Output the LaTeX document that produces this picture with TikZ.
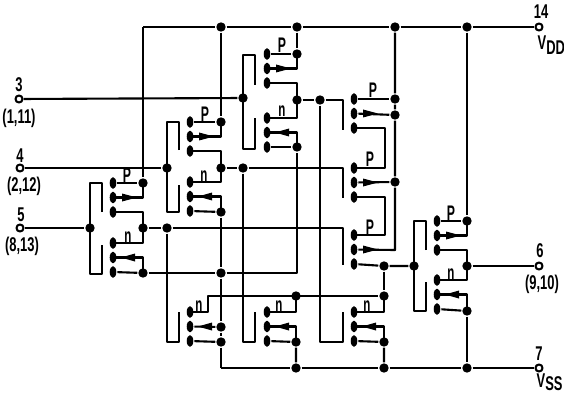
\documentclass[tikz,border=0pt]{standalone}
\usepackage{fontspec}
\setmainfont{Liberation Sans}
\usetikzlibrary{shapes.geometric}

\tikzset{
    wire/.style = {line width = 1.8pt, line join = round},
    junc/.style = {circle, fill = black, inner sep = 0pt, minimum size = 8pt},
    pad/.style = {ellipse, fill = black, inner sep = 0pt, minimum width = 5.6pt, minimum height = 10pt},
    term/.style = {circle, draw, line width = 1.8pt, fill = white, inner sep = 0pt, minimum size = 6pt},
    pletter/.style = {font = \bfseries\fontsize{18}{18}\selectfont, inner sep = 0pt, anchor = base, xscale = .58},
    nletter/.style = {font = \bfseries\fontsize{17}{17}\selectfont, inner sep = 0pt, anchor = base, xscale = .58},
    pinlabel/.style = {font = \bfseries\fontsize{17}{17}\selectfont, inner sep = 0pt, xscale = .65}
}

\begin{document}
\begin{tikzpicture}[x = .03cm, y = -.03cm, wire]
    \useasboundingbox (0, 0) rectangle (564, 398);

    % p transistors
    \foreach \m/\x/\y/\d in {pa/113/183/14, pb/190/122/15, pc/267/54/15, pd/354/99/19, pe/354/168/16, pf/354/235/16, pg/437/221/14}{
        \node [pad] (\m1) at (\x, \y) {};
        \node [pad] (\m2) at (\x, \y + 14.5) {};
        \node [pad] (\m3) at (\x, \y + 29) {};
        \fill (\x + 9, \y + 10.5) -- (\x + 24, \y + 14.5) -- (\x + 9, \y + 18.5) -- cycle;
        \node [pletter] (\m l) at (\x + \d, \y - 1) {P};
    }

    % n transistors
    \foreach \m/\x/\y/\d in {na/113/243/15, nb/190/182/14, nc/267/118/15, nd/190/312/9, ne/267/312/12, nf/354/312/13, ng/437/280/14}{
        \node [pad] (\m1) at (\x, \y) {};
        \node [pad] (\m2) at (\x, \y + 14.5) {};
        \node [pad] (\m3) at (\x, \y + 29) {};
        \fill (\x + 8, \y + 14.5) -- (\x + 22, \y + 10.5) -- (\x + 22, \y + 18.5) -- cycle;
        \node [nletter] (\m l) at (\x + \d, \y - 1) {n};
    }

    % gates
    \foreach \x/\t/\b/\u/\v in {90/183/274/212/245, 167/122/212/150/185, 243/55/149/85/118, 414/221/311/250/282}{
        \draw (\x + 12, \u) |- (\x, \t) -- (\x, \b) -| (\x + 12, \v);
    }

    % junctions
    \foreach \n/\x/\y in {ja1/143/183, ja2/143/228, ja3/143/273, jb1/221/122, jb2/221/168, jb3/221/212,
        jc1/297/54, jc2/297/100, jc3/297/147, jg1/467/221, jg2/467/266, jg3/467/311,
        v1/221/27, v2/297/27, v3/395/27, v4/467/27, g5/90/228, g4/167/168, g3/243/98, g6/414/266,
        h5/167/228, h4/243/168, h3/320/100, jd1/395/99, jd2/395/115, je2/395/182, jf3/384/266,
        k1/221/273, nd2j/221/327, nd3j/221/342, ne1j/296/296, ne3j/296/342, nf1j/384/296, nf3j/384/342,
        s2/296/368, s3/384/368, s4/467/368}{
        \node [junc] (\n) at (\x, \y) {};
    }

    % corners
    \coordinate (v0) at (143, 27);
    \coordinate (s1) at (221, 368);
    \coordinate (c1) at (297, 273);
    \coordinate (cd) at (385, 149);
    \coordinate (ce) at (385, 215);
    \coordinate (cf) at (395, 250);
    \coordinate (cn) at (208, 304);
    \coordinate (gd0) at (343, 100);
    \coordinate (gd1) at (343, 130);
    \coordinate (ge0) at (343, 168);
    \coordinate (ge1) at (343, 198);
    \coordinate (gf0) at (343, 228);
    \coordinate (gf1) at (343, 265);
    \coordinate (gn1) at (179, 342);
    \coordinate (gn2) at (179, 312);
    \coordinate (gn3) at (255, 342);
    \coordinate (gn4) at (255, 312);
    \coordinate (gn5) at (343, 342);
    \coordinate (gn6) at (343, 312);

    % the three input stacks and the inverter
    \foreach \k in {a, b, c, g}{
        \draw (p\k1) -- (j\k1);
        \draw (p\k2.center) -| (j\k1.center);
        \draw (p\k3.center) -| (j\k2.center);
        \draw (n\k1.center) -| (j\k2.center);
        \draw (n\k2.center) -| (j\k3.center);
        \draw (n\k3) -- (j\k3);
    }

    % rails
    \draw (v0) -- (v1) -- (v2) -- (v3) -- (v4);
    \draw (s1) -- (s2) -- (s3) -- (s4);
    \draw (v0) -- (ja1);
    \draw (v1) -- (jb1);
    \draw (v2) -- (jc1);
    \draw (v3) -- (jd1) -- (jd2) -- (je2) -- (cf) -- (pf2);
    \draw (v4) -- (jg1);

    % series p branch
    \draw (pd1) -- (jd1);
    \draw (pd2) -- (jd2);
    \draw (pe2) -- (je2);
    \draw (pd3.center) -| (cd) |- (pe1.center);
    \draw (pe3.center) -| (ce) |- (pf1.center);
    \draw (pf3) -- (jf3) -- (g6);

    % cross wiring and gates
    \draw (ja2) -- (h5) -- (gf0) -- (gf1);
    \draw (jb2) -- (h4) -- (ge0) -- (ge1);
    \draw (jc2) -- (h3) -- (gd0) -- (gd1);
    \draw (h5) -- (h5 |- gn1) -- (gn1) -- (gn2);
    \draw (h4) -- (h4 |- gn3) -- (gn3) -- (gn4);
    \draw (h3) -- (h3 |- gn5) -- (gn5) -- (gn6);
    \draw (ja3) -- (k1) -- (c1) -- (jc3);
    \draw (jb3) -- (k1) -- (nd2j) -- (nd3j) -- (s1);

    % bottom n transistors
    \draw (nd1.center) -| (cn) |- (ne1j.center) -- (nf1j);
    \draw (nd2) -- (nd2j);
    \draw (nd3) -- (nd3j);
    \draw (ne1.center) -| (ne1j.center);
    \draw (ne2.center) -| (ne3j.center);
    \draw (ne3) -- (ne3j) -- (s2);
    \draw (nf1.center) -| (nf1j.center);
    \draw (nf2.center) -| (nf3j.center);
    \draw (nf3) -- (nf3j) -- (s3);
    \draw (jf3) -- (nf1j);
    \draw (jg3) -- (s4);

    % terminals
    \foreach \n/\x/\y in {in3/19/99, in4/20/168, in5/20/228, vdd/539/27, out/539/266, vss/539/368}{
        \node [term] (\n) at (\x, \y) {};
    }
    \draw (in3) -- (g3);
    \draw (in4) -- (g4);
    \draw (in5) -- (g5);
    \draw (v4) -- (vdd);
    \draw (s4) -- (vss);
    \draw (jg2) -- (out);

    % pin labels
    \node [pinlabel] (l3) at (19, 85) {3};
    \node [pinlabel] (l3b) at (19, 118) {(1,11)};
    \node [pinlabel] (l4) at (20, 156) {4};
    \node [pinlabel] (l4b) at (24, 186) {(2,12)};
    \node [pinlabel] (l5) at (21, 215) {5};
    \node [pinlabel] (l5b) at (22, 246) {(8,13)};
    \node [pinlabel] (l14) at (541, 12) {14};
    \node [pinlabel, anchor = base west] (lvdd) at (537, 50) {V\raisebox{-4pt}{DD}};
    \node [pinlabel] (l6) at (540, 251) {6};
    \node [pinlabel] (l6b) at (542, 284) {(9,10)};
    \node [pinlabel] (l7) at (539, 354) {7};
    \node [pinlabel, anchor = base west] (lvss) at (536, 387) {V\raisebox{-3pt}{SS}};
\end{tikzpicture}
\end{document}
